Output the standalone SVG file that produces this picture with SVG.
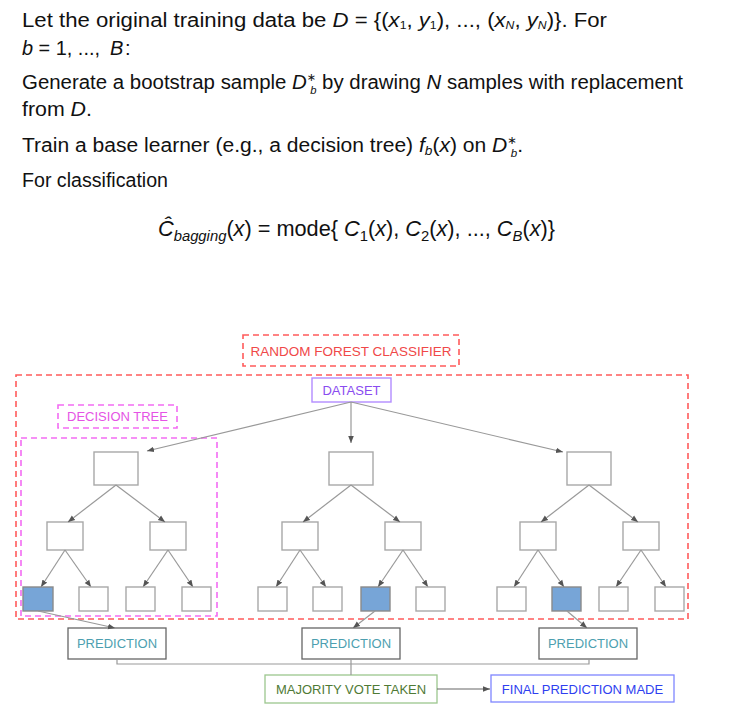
<svg xmlns="http://www.w3.org/2000/svg" width="738" height="715" viewBox="0 0 738 715">
<style>
.t{font-family:"Liberation Sans","DejaVu Sans",sans-serif;font-size:20px;fill:#111}
.i{font-style:italic}
.s{font-size:13px}
.ss{font-size:11px}
.lbl{font-family:"Liberation Sans",Arial,sans-serif;font-size:13px;text-anchor:middle}
.node{fill:#fff;stroke:#a8a8a8;stroke-width:1.4}
.leaf{fill:#77a5d7;stroke:#8a8a8a;stroke-width:1.4}
.edge{stroke:#999;stroke-width:1.2;fill:none}
.arr{stroke:#999;stroke-width:1.2;fill:none;marker-end:url(#ah)}
.red{fill:none;stroke:#ff5b5b;stroke-width:1.6;stroke-dasharray:6 4}
.mag{fill:none;stroke:#f36cf3;stroke-width:1.6;stroke-dasharray:6 4}
</style>
<defs>
<marker id="ah" viewBox="0 0 10 10" refX="10" refY="5" markerWidth="7" markerHeight="7" orient="auto" markerUnits="userSpaceOnUse">
<path d="M0,1 L10,5 L0,9 Z" fill="#555"/>
</marker>
<g id="tree">
<rect class="node" x="94" y="452" width="44" height="33"/>
<rect class="node" x="47" y="522" width="36" height="28"/>
<rect class="node" x="150" y="522" width="36" height="28"/>
<line class="arr" x1="116" y1="485" x2="68" y2="522"/>
<line class="arr" x1="116" y1="485" x2="165" y2="522"/>
<line class="arr" x1="65" y1="550" x2="41" y2="587"/>
<line class="arr" x1="65" y1="550" x2="91" y2="587"/>
<line class="arr" x1="168" y1="550" x2="143" y2="587"/>
<line class="arr" x1="168" y1="550" x2="193" y2="587"/>
</g>
</defs>

<!-- Text block -->
<g id="text">
<text class="t" x="22" y="27" textLength="585" lengthAdjust="spacingAndGlyphs">Let the original training data be <tspan class="i">D</tspan> = {(<tspan class="i">x</tspan><tspan class="ss" dy="2">1</tspan><tspan dy="-2">, </tspan><tspan class="i">y</tspan><tspan class="ss" dy="2">1</tspan><tspan dy="-2">), ..., (</tspan><tspan class="i">x</tspan><tspan class="ss i" dy="2">N</tspan><tspan dy="-2">, </tspan><tspan class="i">y</tspan><tspan class="ss i" dy="2">N</tspan><tspan dy="-2">)}.  For</tspan></text>
<text class="t" x="22" y="55" textLength="78" lengthAdjust="spacingAndGlyphs"><tspan class="i">b</tspan> = 1, ...,</text>
<text class="t i" x="110" y="55">B</text>
<text class="t" x="125" y="55">:</text>
<text class="t" x="22" y="89" textLength="661" lengthAdjust="spacingAndGlyphs">Generate a bootstrap sample <tspan class="i">D</tspan><tspan class="ss" dy="-8">∗</tspan><tspan class="ss i" dx="-6" dy="13">b</tspan><tspan dy="-5"> by drawing </tspan><tspan class="i">N</tspan> samples with replacement</text>
<text class="t" x="22" y="116" textLength="70" lengthAdjust="spacingAndGlyphs">from <tspan class="i">D</tspan>.</text>
<text class="t" x="22" y="152" textLength="501" lengthAdjust="spacingAndGlyphs">Train a base learner (e.g., a decision tree) <tspan class="i">f</tspan><tspan class="s i" dy="3">b</tspan><tspan dy="-3">(</tspan><tspan class="i">x</tspan>) on <tspan class="i">D</tspan><tspan class="ss" dy="-8">∗</tspan><tspan class="ss i" dx="-6" dy="13">b</tspan><tspan dy="-5">.</tspan></text>
<text class="t" x="22" y="187" textLength="146" lengthAdjust="spacingAndGlyphs">For classification</text>
<text class="t" x="158" y="236" textLength="397" lengthAdjust="spacingAndGlyphs" style="font-size:22px"><tspan class="i">Ĉ</tspan><tspan class="i" style="font-size:15px" dy="5">bagging</tspan><tspan dy="-5">(</tspan><tspan class="i">x</tspan>) = mode{ <tspan class="i">C</tspan><tspan style="font-size:15px" dy="5">1</tspan><tspan dy="-5">(</tspan><tspan class="i">x</tspan>), <tspan class="i">C</tspan><tspan style="font-size:15px" dy="5">2</tspan><tspan dy="-5">(</tspan><tspan class="i">x</tspan>), ..., <tspan class="i">C</tspan><tspan class="i" style="font-size:15px" dy="5">B</tspan><tspan dy="-5">(</tspan><tspan class="i">x</tspan>)}</text>
</g>

<!-- Containers -->
<g id="forest">
<rect class="red" x="16" y="375" width="672" height="244"/>
</g>
<g id="forest-label">
<rect class="red" x="243" y="335" width="216" height="31"/>
<text class="lbl" x="351" y="356" fill="#f04848" style="font-size:13.5px">RANDOM FOREST CLASSIFIER</text>
</g>
<g id="tree-container">
<rect class="mag" x="21" y="438" width="196" height="178"/>
</g>
<g id="tree-label">
<rect class="mag" x="58" y="405" width="119" height="23"/>
<text class="lbl" x="117.5" y="421" fill="#e553e5">DECISION TREE</text>
</g>

<g id="dataset">
<rect x="312" y="378" width="79" height="24" fill="#fff" stroke="#b38cff" stroke-width="1.4"/>
<text class="lbl" x="351.5" y="395" fill="#8a4cf0">DATASET</text>
</g>

<!-- Trees -->
<g id="tree1">
<use href="#tree"/>
<rect class="leaf" x="23" y="587" width="30" height="24"/>
<rect class="node" x="79" y="587" width="29" height="24"/>
<rect class="node" x="126" y="587" width="29" height="24"/>
<rect class="node" x="182" y="587" width="29" height="24"/>
</g>
<g id="tree2">
<use href="#tree" x="235"/>
<rect class="node" x="258" y="587" width="29" height="24"/>
<rect class="node" x="313" y="587" width="29" height="24"/>
<rect class="leaf" x="361" y="587" width="29" height="24"/>
<rect class="node" x="416" y="587" width="29" height="24"/>
</g>
<g id="tree3">
<use href="#tree" x="473"/>
<rect class="node" x="497" y="587" width="29" height="24"/>
<rect class="leaf" x="552" y="587" width="29" height="24"/>
<rect class="node" x="599" y="587" width="29" height="24"/>
<rect class="node" x="655" y="587" width="29" height="24"/>
</g>

<!-- Predictions -->
<g id="pred1">
<rect x="68" y="628" width="98" height="31" fill="#fff" stroke="#666" stroke-width="1.3"/>
<text class="lbl" x="117" y="648" fill="#4d9fb0">PREDICTION</text>
</g>
<g id="pred2">
<rect x="302" y="628" width="98" height="31" fill="#fff" stroke="#666" stroke-width="1.3"/>
<text class="lbl" x="351" y="648" fill="#4d9fb0">PREDICTION</text>
</g>
<g id="pred3">
<rect x="539" y="628" width="98" height="31" fill="#fff" stroke="#666" stroke-width="1.3"/>
<text class="lbl" x="588" y="648" fill="#4d9fb0">PREDICTION</text>
</g>
<g id="vote">
<rect x="265" y="675" width="172" height="28" fill="#fff" stroke="#9cc78e" stroke-width="1.3"/>
<text class="lbl" x="351" y="694" fill="#4f7a35">MAJORITY VOTE TAKEN</text>
</g>
<g id="final">
<rect x="491" y="675" width="183" height="27" fill="#fff" stroke="#7f86ff" stroke-width="1.3"/>
<text class="lbl" x="582.5" y="694" fill="#2f3ff0">FINAL PREDICTION MADE</text>
</g>

<!-- Connectors -->
<g id="connectors">
<line class="arr" x1="351" y1="402" x2="147" y2="451"/>
<line class="arr" x1="351" y1="402" x2="351" y2="443"/>
<line class="arr" x1="351" y1="402" x2="563" y2="452"/>
<line class="arr" x1="38" y1="611" x2="115" y2="628"/>
<line class="arr" x1="375" y1="611" x2="353" y2="628"/>
<line class="arr" x1="567" y1="611" x2="587" y2="628"/>
<path class="edge" d="M117,659 V664 H589 V659 M351,659 V675" stroke="#aaa"/>
<line x1="437" y1="689" x2="490" y2="689" stroke="#666" stroke-width="1.2" marker-end="url(#ah)"/>
</g>
</svg>
